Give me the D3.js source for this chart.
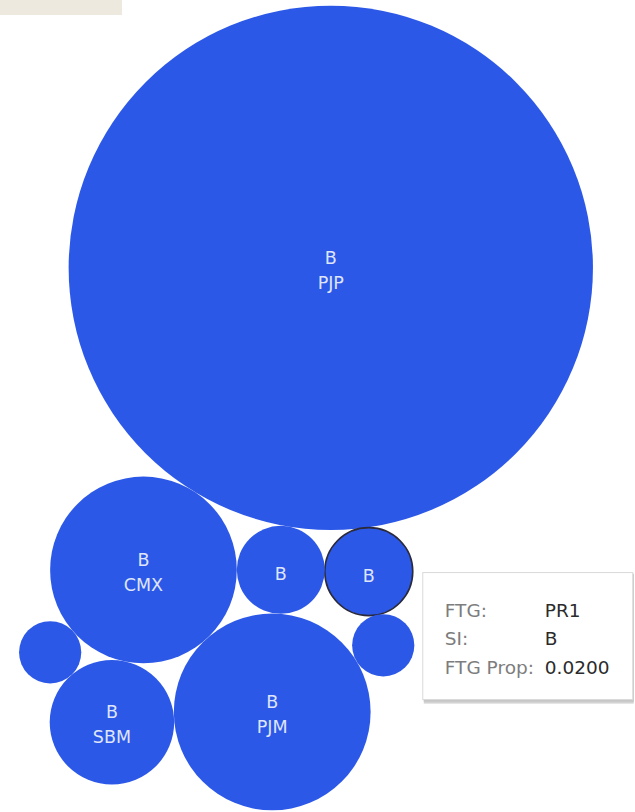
<!DOCTYPE html>
<html>
<head>
<meta charset="utf-8">
<script src="https://cdn.jsdelivr.net/npm/d3@7"></script>
<style>
  html, body { margin: 0; padding: 0; background: #ffffff; }
  svg { display: block; }
</style>
</head>
<body>
<svg id="chart" width="635" height="812"></svg>
<script>
// ---- data ----
const ftg     = ["PJP", "PJM", "CMX", "SBM", "PR1", "FTG6", "FTG7", "FTG8"];
const si      = ["B", "B", "B", "B", "B", "B", "B", "B"];
const ftgProp = [0.71, 0.10, 0.09, 0.04, 0.02, 0.02, 0.01, 0.01];
const selectedFtg = "PR1";

// ---- layout config (packing order: which circles each one touches) ----
const firstAngleDeg = 99.4;
const packSteps = [
  { node: 4, a: 0, b: 5, side: -1 },
  { node: 2, a: 0, b: 5, side: 1 },
  { node: 1, a: 5, b: 2, side: -1 },
  { node: 3, a: 2, b: 1, side: 1 },
  { node: 6, a: 2, b: 3, side: 1 },
  { node: 7, a: 4, b: 1, side: -1 }
];

const viewW = 612, viewH = 816;
const svg = d3.select("#chart");

svg.append("rect").attr("x", 0).attr("y", 0).attr("width", 122).attr("height", 15).attr("fill", "#ede9df");

const rScale = d3.scaleSqrt().domain([0, 0.02]).range([0, 44]);
const nodes = ftgProp.map((v, i) => ({ i, ftg: ftg[i], si: si[i], v, r: rScale(v), x: 0, y: 0 }));

function tangentTo(a, b, r, side) {
  const dx = b.x - a.x, dy = b.y - a.y;
  const d = Math.hypot(dx, dy);
  const ux = dx / d, uy = dy / d;
  const da = a.r + r, db = b.r + r;
  const t = (d * d + da * da - db * db) / (2 * d);
  const h = Math.sqrt(Math.max(0, da * da - t * t));
  return { x: a.x + t * ux + side * h * (-uy), y: a.y + t * uy + side * h * ux };
}

nodes[0].x = 0; nodes[0].y = 0;
const ang = firstAngleDeg * Math.PI / 180;
nodes[5].x = (nodes[0].r + nodes[5].r) * Math.cos(ang);
nodes[5].y = (nodes[0].r + nodes[5].r) * Math.sin(ang);
packSteps.forEach(s => {
  const p = tangentTo(nodes[s.a], nodes[s.b], nodes[s.node].r, s.side);
  nodes[s.node].x = p.x; nodes[s.node].y = p.y;
});

const x0 = d3.min(nodes, d => d.x - d.r), x1 = d3.max(nodes, d => d.x + d.r);
const y0 = d3.min(nodes, d => d.y - d.r), y1 = d3.max(nodes, d => d.y + d.r);
const cx = (x0 + x1) / 2, cy = (y0 + y1) / 2;
const xS = d3.scaleLinear().domain([cx - viewW / 2, cx + viewW / 2]).range([0, viewW]);
const yS = d3.scaleLinear().domain([cy - viewH / 2, cy + viewH / 2]).range([0, viewH]);

const g = svg.append("g");
const bubble = g.selectAll("g.b").data(nodes).join("g").attr("class", "b")
  .attr("transform", d => `translate(${xS(d.x)},${yS(d.y)})`);

bubble.append("circle")
  .attr("r", d => d.r)
  .attr("fill", "#2c58e8")
  .attr("stroke", d => d.ftg === selectedFtg ? "#2a2a3a" : "none")
  .attr("stroke-width", 1.6);

const font = "'DejaVu Sans', Verdana, sans-serif";
bubble.each(function(d) {
  const el = d3.select(this);
  const showFtg = d.r > 55, showSi = d.r > 38;
  if (showFtg) {
    el.append("text").attr("y", -4).text(d.si);
    el.append("text").attr("y", 21).text(d.ftg);
  } else if (showSi) {
    el.append("text").attr("y", 10).text(d.si);
  }
});
bubble.selectAll("text")
  .attr("text-anchor", "middle")
  .attr("font-family", font)
  .attr("font-size", 17.5)
  .attr("fill", "#dfe5fb");

// tooltip
const sel = nodes.find(d => d.ftg === selectedFtg);
const tx = xS(sel.x) + sel.r + 10, ty = yS(sel.y) + 1;
const tw = 210, th = 127;
const tip = svg.append("g").attr("transform", `translate(${tx},${ty})`);
tip.append("rect").attr("x", 1).attr("y", 2).attr("width", tw).attr("height", th + 2).attr("fill", "#d3d3d3");
tip.append("rect").attr("x", 1).attr("y", 1).attr("width", tw).attr("height", th + 1).attr("fill", "#c4c4c4");
tip.append("rect").attr("width", tw).attr("height", th).attr("fill", "#ffffff").attr("stroke", "#d9d9d9");
const rows = [["FTG:", sel.ftg], ["SI:", sel.si], ["FTG Prop:", d3.format(".4f")(sel.v)]];
rows.forEach((r, i) => {
  tip.append("text").attr("x", 22).attr("y", 44 + i * 28.5).text(r[0])
    .attr("font-family", font).attr("font-size", 18.5).attr("fill", "#7d7d7d");
  tip.append("text").attr("x", 122).attr("y", 44 + i * 28.5).text(r[1])
    .attr("font-family", font).attr("font-size", 18.5).attr("fill", "#2b2b2b");
});
</script>
</body>
</html>
